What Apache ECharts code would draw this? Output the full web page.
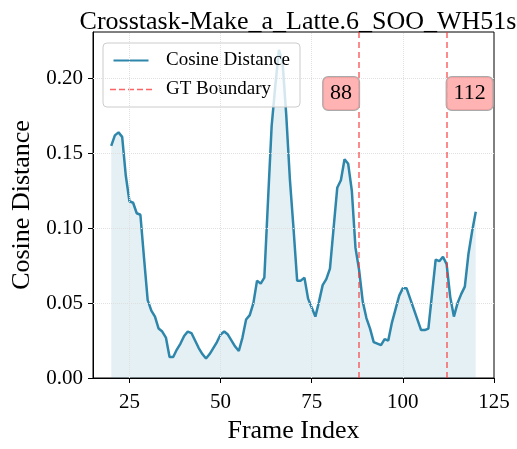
<!DOCTYPE html>
<html>
<head>
<meta charset="utf-8">
<title>Crosstask-Make_a_Latte.6_SOO_WH51s</title>
<script src="https://cdn.jsdelivr.net/npm/echarts@6/dist/echarts.min.js"></script>
<style>
  html, body { margin: 0; padding: 0; background: #fff; }
  #chart { width: 517px; height: 449px; }
</style>
</head>
<body>
<div id="chart"></div>
<script>
// frame index (x) and cosine distance (y)
var frames = [20, 21, 22, 23, 24, 25, 26, 27, 28, 29, 30, 31, 32, 33, 34, 35, 36, 37, 38, 39,
  40, 41, 42, 43, 44, 45, 46, 47, 48, 49, 50, 51, 52, 53, 54, 55, 56, 57, 58, 59,
  60, 61, 62, 63, 64, 65, 66, 67, 68, 69, 70, 71, 72, 73, 74, 75, 76, 77, 78, 79,
  80, 81, 82, 83, 84, 85, 86, 87, 88, 89, 90, 91, 92, 93, 94, 95, 96, 97, 98, 99,
  100, 101, 102, 103, 104, 105, 106, 107, 108, 109, 110, 111, 112, 113, 114, 115, 116, 117, 118, 119, 120]
var distances = [0.155, 0.162, 0.164, 0.161, 0.135, 0.118, 0.117, 0.110, 0.109, 0.080,
  0.052, 0.045, 0.041, 0.033, 0.031, 0.027, 0.014, 0.014, 0.019, 0.023,
  0.028, 0.031, 0.030, 0.025, 0.020, 0.016, 0.013, 0.016, 0.020, 0.024,
  0.029, 0.031, 0.029, 0.025, 0.021, 0.018, 0.027, 0.039, 0.042, 0.050,
  0.065, 0.063, 0.067, 0.118, 0.168, 0.195, 0.219, 0.211, 0.176, 0.133,
  0.100, 0.065, 0.065, 0.067, 0.053, 0.047, 0.041, 0.051, 0.062, 0.066,
  0.073, 0.100, 0.127, 0.132, 0.146, 0.143, 0.125, 0.087, 0.072, 0.051,
  0.040, 0.033, 0.024, 0.023, 0.022, 0.026, 0.025, 0.037, 0.046, 0.055,
  0.060, 0.060, 0.053, 0.046, 0.039, 0.032, 0.032, 0.033, 0.056, 0.079,
  0.078, 0.081, 0.076, 0.054, 0.041, 0.050, 0.056, 0.061, 0.083, 0.098, 0.111]
var boundaries = [88, 112]
var boundaryLabelY = 0.19
var xTicks = [25, 50, 75, 100, 125]
var yTicks = [0, 0.05, 0.10, 0.15, 0.20]

var serif = '"Liberation Serif", "DejaVu Serif", serif'
var lineColor = '#2e86ab'
var gtColor = 'rgba(250, 50, 50, 0.75)'

var chart = echarts.init(document.getElementById('chart'))

var points = []
for (var i = 0; i < frames.length; i++) {
  points.push([frames[i], distances[i]])
}

// dotted grid lines at the tick positions
var gridLines = []
for (var a = 0; a < xTicks.length - 1; a++) gridLines.push({ xAxis: xTicks[a] })
for (var b = 1; b < yTicks.length; b++) gridLines.push({ yAxis: yTicks[b] })

var boundaryLines = []
var boundaryLabels = []
for (var k = 0; k < boundaries.length; k++) {
  boundaryLines.push({ xAxis: boundaries[k] })
  boundaryLabels.push({
    coord: [boundaries[k], boundaryLabelY],
    value: boundaries[k],
    label: { position: k == 0 ? 'left' : 'right' }
  })
}

// legend samples: solid bar and dashed bar
var solidIcon = 'path://M0,0h42v2.4h-42z'
var dashIcon = 'path://M0,0h6v1.6h-6zM9,0h6v1.6h-6zM18,0h6v1.6h-6zM27,0h6v1.6h-6zM36,0h6v1.6h-6z'

var option = {
  animation: false,
  title: {
    text: 'Crosstask-Make_a_Latte.6_SOO_WH51s',
    left: 293, top: 4, textAlign: 'center',
    textStyle: { fontFamily: serif, fontSize: 26, fontWeight: 'normal', color: '#000' }
  },
  legend: {
    orient: 'vertical', left: 103, top: 43,
    data: [
      { name: 'Cosine Distance', icon: solidIcon },
      { name: 'GT Boundary', icon: dashIcon }
    ],
    itemWidth: 42, itemHeight: 2, itemGap: 10,
    padding: [8, 10, 8, 7],
    backgroundColor: 'rgba(255,255,255,0.8)',
    borderColor: '#cccccc', borderWidth: 1, borderRadius: 4,
    textStyle: { fontFamily: serif, fontSize: 19, color: '#000', padding: [0, 0, 0, 9] }
  },
  grid: {
    left: 93, right: 23, top: 32, bottom: 67,
    show: true, borderColor: '#000', borderWidth: 1
  },
  xAxis: {
    type: 'value', min: 15, max: 125,
    name: 'Frame Index', nameLocation: 'middle', nameGap: 40,
    nameTextStyle: { fontFamily: serif, fontSize: 26, color: '#000' },
    axisLine: { show: true, lineStyle: { color: '#000', width: 1 } },
    axisTick: { show: true, length: 5, customValues: xTicks, lineStyle: { color: '#000' } },
    axisLabel: { customValues: xTicks, margin: 14, fontFamily: serif, fontSize: 21, color: '#000' },
    splitLine: { show: false }
  },
  yAxis: {
    type: 'value', min: 0, max: 0.231,
    name: 'Cosine Distance', nameLocation: 'middle', nameGap: 48,
    nameTextStyle: { fontFamily: serif, fontSize: 26, color: '#000' },
    axisLine: { show: true, lineStyle: { color: '#000', width: 1 } },
    axisTick: { show: true, length: 5, customValues: yTicks, lineStyle: { color: '#000' } },
    axisLabel: {
      customValues: yTicks, margin: 10, fontFamily: serif, fontSize: 21, color: '#000',
      formatter: function (v) { return v.toFixed(2) }
    },
    splitLine: { show: false }
  },
  series: [
    {
      name: 'grid', type: 'line', data: [], silent: true, z: 1,
      markLine: {
        silent: true, symbol: 'none', label: { show: false },
        lineStyle: { color: '#e0e0e0', type: 'dotted', width: 1 },
        data: gridLines
      }
    },
    {
      name: 'Cosine Distance', type: 'line', data: points,
      symbol: 'none', showSymbol: false, z: 3,
      lineStyle: { color: lineColor, width: 2.5 },
      itemStyle: { color: lineColor },
      areaStyle: { color: 'rgba(46,134,171,0.18)' }
    },
    {
      name: 'GT Boundary', type: 'line', data: [], symbol: 'none', z: 4,
      lineStyle: { color: gtColor, width: 1.5, type: [6, 4] },
      itemStyle: { color: gtColor },
      markLine: {
        silent: true, symbol: 'none', label: { show: false },
        lineStyle: { color: gtColor, width: 1.5, type: [6, 4] },
        data: boundaryLines
      },
      markPoint: {
        symbol: 'circle', symbolSize: 0,
        label: {
          show: true, distance: 0,
          formatter: function (p) { return p.value },
          fontFamily: serif, fontSize: 22, color: '#000', lineHeight: 25,
          backgroundColor: 'rgba(255,160,160,0.8)',
          borderColor: '#aaaaaa', borderWidth: 1, borderRadius: 5,
          padding: [4, 7]
        },
        data: boundaryLabels
      }
    }
  ]
}

chart.setOption(option)
</script>
</body>
</html>
